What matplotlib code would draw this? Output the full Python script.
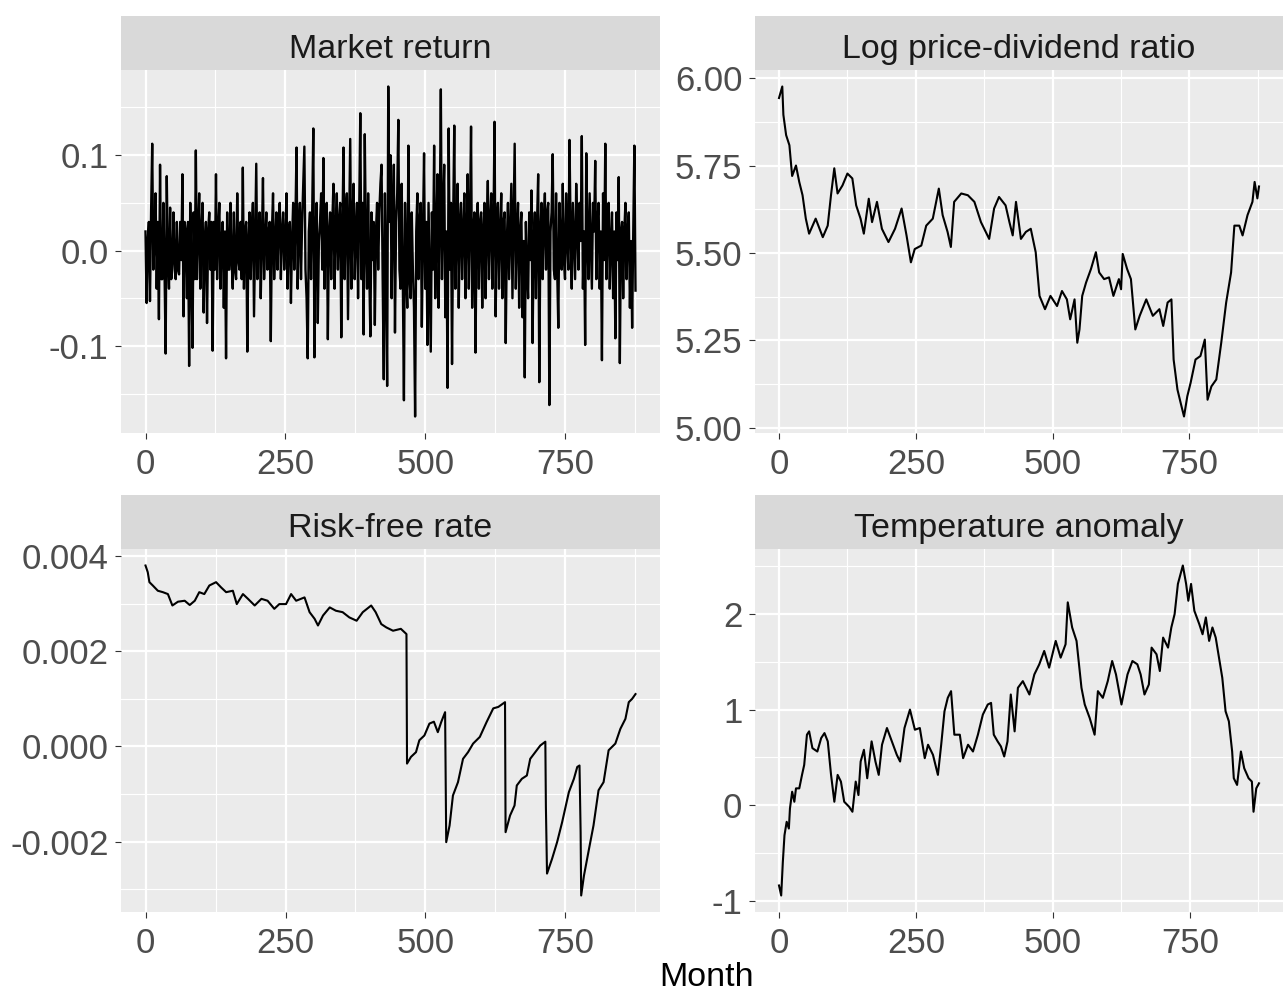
import numpy as np
import matplotlib
matplotlib.use("Agg")
import matplotlib.pyplot as plt

plt.rcParams['font.family'] = ['Liberation Sans', 'DejaVu Sans']
plt.rcParams['axes.unicode_minus'] = False

# ---- data ----
titles = ["Market return", "Log price-dividend ratio", "Risk-free rate", "Temperature anomaly"]

# market return, one value every 2 months (0, 2, ..., 876)
market_months = np.arange(0, 877, 2)
market_vals = [
    0.02, -0.055, 0.01, 0.03, -0.053, 0.04, 0.112, -0.02, 0.01, 0.06, -0.04, 0.03, -0.072, 0.09, -0.03,
    -0.03, 0.05, -0.02, -0.108, 0.078, -0.01, -0.04, 0.045, -0.03, -0.02, 0.04, -0.01, -0.03, 0.03, -0.02,
    -0.025, 0.03, -0.01, 0.08, -0.069, 0.03, 0.02, -0.05, 0.03, -0.121, 0.05, -0.02, -0.102, 0.04, -0.03,
    0.105, -0.03, 0.02, 0.06, -0.04, 0.02, 0.05, -0.065, 0.01, 0.03, -0.076, 0.02, 0.04, -0.02, 0.03,
    -0.105, 0.03, -0.02, 0.08, -0.03, 0.02, 0.05, -0.04, 0.01, 0.03, -0.06, 0.02, -0.113, 0.04, -0.02,
    -0.02, 0.05, -0.01, -0.04, 0.04, -0.02, -0.03, 0.06, -0.01, -0.02, 0.03, -0.03, 0.087, -0.04, 0.02,
    0.03, -0.106, 0.01, 0.04, -0.03, 0.02, 0.05, -0.069, 0.01, 0.091, -0.03, 0.02, 0.04, -0.05, 0.01,
    0.076, -0.03, 0.01, 0.04, -0.02, 0.02, 0.03, -0.095, 0.02, 0.06, -0.03, 0.01, 0.04, -0.02, 0.03,
    0.05, -0.03, 0.02, 0.04, -0.02, 0.01, 0.06, -0.04, 0.02, 0.03, -0.055, 0.01, 0.05, -0.02, 0.03,
    0.108, -0.04, 0.02, 0.05, -0.03, 0.03, 0.07, 0.109, -0.02, -0.05, -0.113, 0.02, 0.04, -0.03, 0.04,
    0.128, -0.112, 0.02, 0.05, -0.076, 0.01, 0.03, 0.06, -0.02, 0.097, -0.04, 0.03, 0.05, -0.093, 0.02,
    0.04, -0.03, 0.03, 0.07, -0.04, 0.02, 0.06, -0.02, 0.03, 0.05, -0.091, 0.02, 0.108, -0.03, 0.04,
    0.06, -0.072, 0.02, 0.117, -0.04, 0.03, 0.07, -0.03, 0.02, 0.05, -0.05, 0.04, 0.144, -0.03, 0.05,
    -0.088, 0.122, 0.01, -0.04, 0.06, -0.02, -0.09, 0.04, -0.01, 0.03, -0.078, 0.02, 0.05, -0.02, 0.04,
    0.07, 0.09, -0.03, -0.135, 0.06, -0.02, -0.142, 0.172, 0.03, 0.10, -0.05, 0.04, 0.09, -0.086, 0.03,
    0.06, 0.137, -0.02, -0.04, 0.07, -0.03, -0.157, 0.05, -0.02, -0.06, 0.11, -0.03, -0.05, 0.04, -0.02,
    -0.06, -0.174, 0.02, 0.06, -0.03, 0.03, 0.05, -0.08, 0.02, 0.102, -0.04, 0.03, -0.099, 0.05, -0.03,
    -0.106, 0.04, -0.02, 0.11, -0.05, 0.02, 0.08, -0.06, 0.03, 0.169, -0.03, 0.04, 0.09, -0.07, 0.02,
    -0.144, 0.128, -0.02, 0.05, -0.119, 0.03, 0.131, -0.04, 0.02, 0.07, -0.06, 0.03, 0.05, -0.03, 0.02,
    0.06, -0.05, 0.02, 0.08, -0.04, 0.03, 0.13, -0.06, 0.02, 0.04, -0.107, 0.03, 0.05, -0.04, 0.03,
    0.04, -0.06, 0.02, 0.05, -0.05, 0.02, 0.073, -0.03, 0.03, 0.06, -0.04, 0.02, 0.135, -0.069, 0.03,
    0.05, -0.04, 0.02, 0.06, -0.05, 0.03, 0.04, -0.097, 0.01, 0.05, -0.03, 0.02, 0.07, -0.05, 0.03,
    0.112, -0.04, 0.02, 0.05, -0.06, 0.02, 0.04, -0.07, 0.01, -0.133, 0.03, -0.02, -0.05, 0.04, -0.01,
    0.063, -0.097, 0.01, 0.04, -0.05, 0.03, 0.08, -0.138, 0.02, 0.05, -0.03, 0.03, 0.06, -0.02, 0.04,
    0.05, -0.162, 0.02, 0.04, 0.101, -0.02, -0.03, 0.06, -0.02, -0.081, 0.05, 0.01, -0.02, 0.07, -0.01,
    -0.03, 0.06, 0.01, -0.02, 0.116, 0.02, -0.04, 0.05, 0.01, -0.03, 0.07, 0.02, -0.02, 0.05, 0.01,
    0.12, -0.04, 0.02, -0.099, 0.102, 0.01, -0.03, 0.06, 0.01, -0.04, 0.05, 0.02, 0.094, -0.03, 0.03,
    0.05, -0.04, 0.02, -0.115, 0.06, -0.01, 0.112, -0.03, 0.02, 0.05, -0.04, 0.01, 0.04, -0.05, 0.02,
    -0.092, 0.04, -0.01, 0.077, -0.118, 0.02, 0.03, -0.05, 0.02, 0.05, -0.03, 0.02, 0.04, -0.06, 0.01,
    -0.081, 0.02, 0.11, -0.042,
]

pd_months = [0, 6, 8, 13, 19, 24, 31, 37, 43, 49, 55, 67, 80, 89, 95, 101, 107, 116, 125, 134,
             141, 149, 155, 164, 170, 179, 188, 200, 212, 224, 233, 241, 248, 260, 269, 281, 292, 299, 308, 314,
             320, 333, 345, 357, 369, 384, 393, 402, 414, 421, 427, 433, 442, 451, 460, 469, 476, 486, 496, 508,
             517, 526, 532, 540, 545, 549, 554, 561, 570, 579, 585, 594, 603, 611, 621, 625, 628, 636, 643, 651,
             659, 671, 683, 695, 702, 710, 717, 721, 728, 734, 740, 746, 752, 761, 770, 778, 783, 790, 799, 808,
             817, 826, 832, 841, 847, 856, 865, 869, 874, 877]
pd_vals = [5.943, 5.976, 5.895, 5.837, 5.808, 5.72, 5.75, 5.703, 5.665, 5.598, 5.555, 5.598, 5.545, 5.578, 5.665, 5.742, 5.67, 5.693, 5.727, 5.713,
           5.636, 5.598, 5.555, 5.655, 5.588, 5.646, 5.569, 5.531, 5.569, 5.627, 5.55, 5.473, 5.511, 5.521, 5.578, 5.598, 5.684, 5.608, 5.56, 5.517,
           5.646, 5.67, 5.665, 5.646, 5.588, 5.54, 5.627, 5.66, 5.636, 5.588, 5.55, 5.646, 5.54, 5.56, 5.569, 5.502, 5.377, 5.339, 5.377, 5.348,
           5.391, 5.367, 5.31, 5.367, 5.243, 5.281, 5.377, 5.415, 5.454, 5.502, 5.444, 5.425, 5.43, 5.377, 5.425, 5.396, 5.497, 5.454, 5.425, 5.281,
           5.32, 5.367, 5.32, 5.339, 5.291, 5.358, 5.367, 5.195, 5.109, 5.07, 5.032, 5.09, 5.128, 5.195, 5.205, 5.252, 5.08, 5.118, 5.138, 5.243,
           5.358, 5.444, 5.578, 5.578, 5.55, 5.608, 5.646, 5.703, 5.656, 5.69]

rf_months = [0, 4, 7, 13, 22, 31, 40, 48, 58, 70, 79, 88, 96, 105, 114, 126, 135, 144, 156, 163,
             174, 183, 195, 207, 218, 230, 239, 251, 260, 269, 284, 293, 302, 308, 317, 329, 340, 352, 364, 377,
             388, 403, 411, 421, 430, 442, 456, 466, 467, 474, 483, 489, 498, 507, 515, 522, 528, 535, 537, 543,
             549, 558, 567, 576, 585, 597, 609, 621, 630, 642, 643, 651, 659, 663, 672, 681, 687, 696, 705, 714,
             715, 717, 726, 735, 744, 756, 765, 771, 775, 777, 778, 783, 792, 800, 809, 818, 827, 839, 848, 857,
             863, 869, 875]
rf_vals = [0.0038, 0.00366, 0.00345, 0.00338, 0.00327, 0.00324, 0.0032, 0.00296, 0.00304, 0.00306, 0.00297, 0.00306, 0.00324, 0.0032, 0.00338, 0.00345, 0.00334, 0.00324, 0.00327, 0.00299,
           0.0032, 0.0031, 0.00296, 0.0031, 0.00306, 0.00289, 0.00299, 0.00299, 0.0032, 0.00306, 0.00313, 0.00282, 0.00268, 0.00254, 0.00275, 0.00292, 0.00285, 0.00282, 0.00271, 0.00264,
           0.00282, 0.00296, 0.00282, 0.00257, 0.0025, 0.00243, 0.00247, 0.00236, -0.00036, -0.00022, -0.00012, 0.00013, 0.00023, 0.00048, 0.00052, 0.0003, 0.00051, 0.00072, -0.00201, -0.00166,
           -0.00103, -0.00075, -0.00026, -0.00012, 0.00006, 0.0002, 0.00051, 0.0008, 0.00083, 0.00093, -0.0018, -0.00145, -0.00124, -0.00082, -0.00068, -0.00061, -0.00026, -0.00012, 0.00002, 0.0001,
           -0.00127, -0.00267, -0.00236, -0.00201, -0.00159, -0.00096, -0.00068, -0.00043, -0.0004, -0.0018, -0.00313, -0.00271, -0.00215, -0.00166, -0.00092, -0.00075, -0.00008, 0.00006, 0.00037, 0.00058,
           0.00093, 0.001, 0.0011]

temp_months = [0, 4, 7, 10, 14, 18, 20, 24, 28, 31, 37, 42, 46, 51, 55, 61, 70, 77, 83, 89,
               95, 101, 107, 113, 119, 128, 134, 140, 145, 149, 155, 161, 169, 176, 182, 188, 197, 206, 215, 221,
               229, 239, 248, 257, 266, 272, 281, 290, 296, 302, 308, 314, 320, 330, 336, 345, 354, 363, 372, 381,
               387, 392, 399, 405, 411, 417, 423, 430, 436, 445, 457, 466, 475, 484, 493, 505, 514, 523, 527, 535,
               543, 552, 558, 567, 576, 582, 591, 600, 608, 615, 625, 636, 645, 654, 660, 667, 675, 680, 689, 695,
               701, 710, 716, 722, 728, 737, 743, 747, 752, 758, 767, 773, 779, 785, 791, 797, 803, 809, 815, 821,
               827, 830, 836, 843, 849, 857, 863, 866, 871, 876]
temp_vals = [-0.842, -0.947, -0.596, -0.316, -0.175, -0.246, -0.035, 0.14, 0.035, 0.175, 0.175, 0.316, 0.421, 0.737, 0.772, 0.596, 0.561, 0.702, 0.754, 0.667,
             0.316, 0.035, 0.316, 0.246, 0.035, -0.018, -0.07, 0.246, 0.105, 0.456, 0.579, 0.281, 0.667, 0.456, 0.316, 0.632, 0.807, 0.667, 0.526, 0.456,
             0.807, 1.0, 0.789, 0.807, 0.491, 0.632, 0.526, 0.316, 0.632, 0.982, 1.123, 1.193, 0.737, 0.737, 0.491, 0.632, 0.561, 0.737, 0.947, 1.053,
             1.07, 0.737, 0.667, 0.614, 0.509, 0.667, 1.158, 0.772, 1.228, 1.298, 1.158, 1.368, 1.474, 1.614, 1.439, 1.719, 1.544, 1.684, 2.123, 1.86,
             1.719, 1.228, 1.053, 0.912, 0.737, 1.193, 1.123, 1.298, 1.509, 1.368, 1.053, 1.368, 1.509, 1.474, 1.368, 1.158, 1.263, 1.649, 1.579, 1.404,
             1.754, 1.649, 1.86, 2.0, 2.316, 2.509, 2.316, 2.14, 2.316, 2.035, 1.895, 1.789, 1.965, 1.719, 1.86, 1.754, 1.544, 1.333, 0.982, 0.877,
             0.561, 0.281, 0.211, 0.561, 0.386, 0.281, 0.246, -0.07, 0.175, 0.228]

x_major = [0, 250, 500, 750]
x_minor = [125, 375, 625, 875]
y_major = [[-0.1, 0.0, 0.1], [5.00, 5.25, 5.50, 5.75, 6.00], [-0.002, 0.0, 0.002, 0.004], [-1, 0, 1, 2]]
y_labels = [["-0.1", "0.0", "0.1"], ["5.00", "5.25", "5.50", "5.75", "6.00"],
            ["-0.002", "0.000", "0.002", "0.004"], ["-1", "0", "1", "2"]]
y_minor = [[-0.15, -0.05, 0.05, 0.15], [5.125, 5.375, 5.625, 5.875],
           [-0.003, -0.001, 0.001, 0.003], [-0.5, 0.5, 1.5, 2.5]]

series = [(market_months, market_vals), (pd_months, pd_vals), (rf_months, rf_vals), (temp_months, temp_vals)]

# ---- figure ----
W, H = 1283, 994
fig = plt.figure(figsize=(W / 100, H / 100), dpi=100)

# panel boxes in pixels: left, top, right, bottom
boxes = [(121, 70, 660, 433), (755, 70, 1283, 433), (121, 549, 660, 912), (755, 549, 1283, 912)]
strip_h = 54

for i, (l, t, r, b) in enumerate(boxes):
    ax = fig.add_axes([l / W, 1 - b / H, (r - l) / W, (b - t) / H])
    ax.set_facecolor('#EBEBEB')
    x, y = series[i]
    ax.plot(x, y, color='black', lw=1.7 if i == 0 else 1.5)
    ax.margins(x=0.05, y=0.05)

    ax.set_xticks(x_major)
    ax.set_xticklabels([str(v) for v in x_major])
    ax.set_xticks(x_minor, minor=True)
    ax.set_yticks(y_major[i])
    ax.set_yticklabels(y_labels[i])
    ax.set_yticks(y_minor[i], minor=True)

    ax.grid(which='major', color='white', lw=1.6)
    ax.grid(which='minor', color='white', lw=0.8)
    ax.set_axisbelow(True)
    for s in ax.spines.values():
        s.set_visible(False)
    ax.tick_params(which='major', length=4, width=0.8, color='#333333',
                   labelsize=25, labelcolor='#4D4D4D')
    ax.tick_params(axis='x', which='major', pad=7)
    ax.tick_params(axis='y', which='major', pad=5)
    ax.tick_params(which='minor', length=0)

    # facet strip
    sax = fig.add_axes([l / W, 1 - t / H, (r - l) / W, strip_h / H])
    sax.set_facecolor('#D9D9D9')
    sax.set_xticks([])
    sax.set_yticks([])
    for s in sax.spines.values():
        s.set_visible(False)
    sax.text(0.5, 0.38, titles[i], ha='center', va='center', fontsize=24.5,
             color='#1A1A1A', transform=sax.transAxes)

fig.text(707 / W, 1 - 977 / H, "Month", ha='center', va='center', fontsize=24.5, color='black')

fig.savefig("out.png", dpi=100, facecolor='white')
